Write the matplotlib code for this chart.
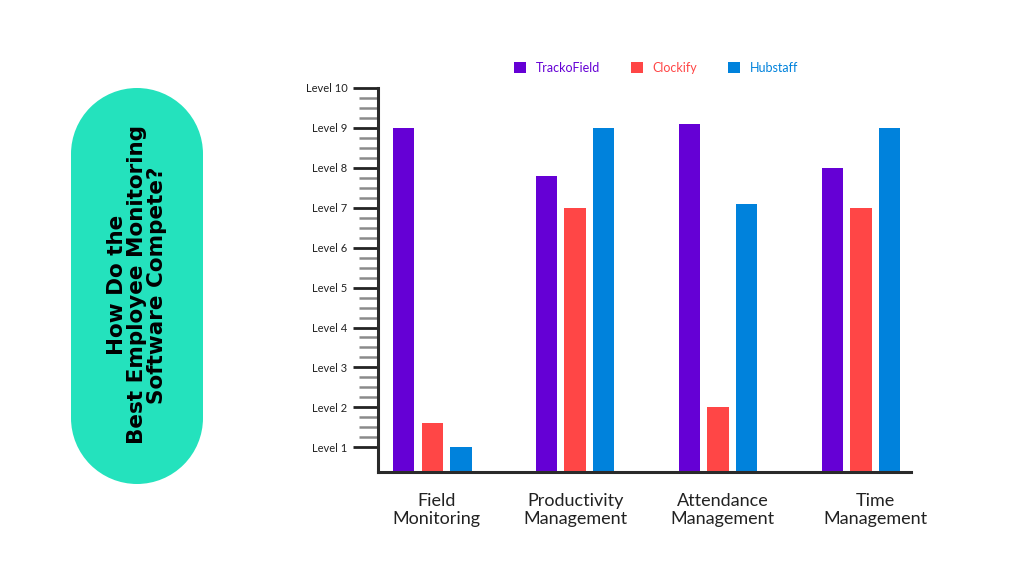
import numpy as np
import matplotlib.pyplot as plt
from matplotlib.patches import Rectangle, Circle
from matplotlib.ticker import FixedLocator

categories = ["Field\nMonitoring", "Productivity\nManagement",
              "Attendance\nManagement", "Time\nManagement"]
series = ["TrackoField", "Clockify", "Hubstaff"]
trackofield = [9.0, 7.8, 9.1, 8.0]
clockify = [1.6, 7.0, 2.0, 7.0]
hubstaff = [1.0, 9.0, 7.1, 9.0]
levels = list(range(1, 11))
level_labels = ["Level %d" % l for l in levels]

colors = ["#6500d5", "#ff4646", "#0082dc"]
font = "Lato"
teal = "#24e2bd"

fig = plt.figure(figsize=(10.24, 5.75), dpi=100)

# background axes in pixel coords (y up) for the title pill
bg = fig.add_axes([0, 0, 1, 1])
bg.set_xlim(0, 1024)
bg.set_ylim(0, 575)
bg.axis("off")
r = 66
cx, top, bottom = 137, 575 - 88, 575 - 484
bg.add_patch(Rectangle((cx - r, bottom + r), 2 * r, top - bottom - 2 * r, fc=teal, ec="none"))
bg.add_patch(Circle((cx, top - r), r, fc=teal, ec="none"))
bg.add_patch(Circle((cx, bottom + r), r, fc=teal, ec="none"))
bg.text(137, 575 - 285, "How Do the\nBest Employee Monitoring\nSoftware Compete?",
        rotation=90, ha="center", va="center", multialignment="center",
        fontsize=15.5, fontweight="bold", family="DejaVu Sans", color="black",
        linespacing=1.0)

ax = fig.add_axes([378 / 1024, 1 - 472 / 575, (911 - 378) / 1024, (472 - 88) / 575])
x = np.arange(len(categories))
w = 0.15
gap = 0.2
for i, (vals, name) in enumerate(zip([trackofield, clockify, hubstaff], series)):
    ax.bar(x + (i - 1) * gap, vals, width=w, color=colors[i], label=name, zorder=2)

ax.set_xlim(-0.38, 3.35)
ax.set_ylim(0.38, 10)
ax.set_yticks(levels)
ax.set_yticklabels(level_labels, fontsize=8, family=font, color="#222222")
minor = [l + f for l in range(1, 10) for f in (0.25, 0.5, 0.75)]
ax.yaxis.set_minor_locator(FixedLocator(minor))
ax.tick_params(axis="y", which="major", length=18, width=2, color="#222222", pad=4)
ax.tick_params(axis="y", which="minor", length=14, width=1.8, color="#8a8a8a")
label_shift = [0.03, 0.0, 0.03, 0.1]
ax.set_xticks(x + np.array(label_shift))
ax.set_xticklabels(categories, fontsize=13, family=font, color="#222222", linespacing=1.2)
ax.tick_params(axis="x", length=0, pad=15)
for s in ["top", "right"]:
    ax.spines[s].set_visible(False)
for s in ["left", "bottom"]:
    ax.spines[s].set_linewidth(2.2)
    ax.spines[s].set_color("#2a2a2a")

leg = fig.legend(loc="center", bbox_to_anchor=(656 / 1024, 1 - 68 / 575), ncol=3,
                 frameon=False, handlelength=0.95, handleheight=0.95,
                 columnspacing=2.45, handletextpad=0.8, prop={"family": font, "size": 9})
for t, c in zip(leg.get_texts(), colors):
    t.set_color(c)

plt.savefig("out.png", dpi=100)
